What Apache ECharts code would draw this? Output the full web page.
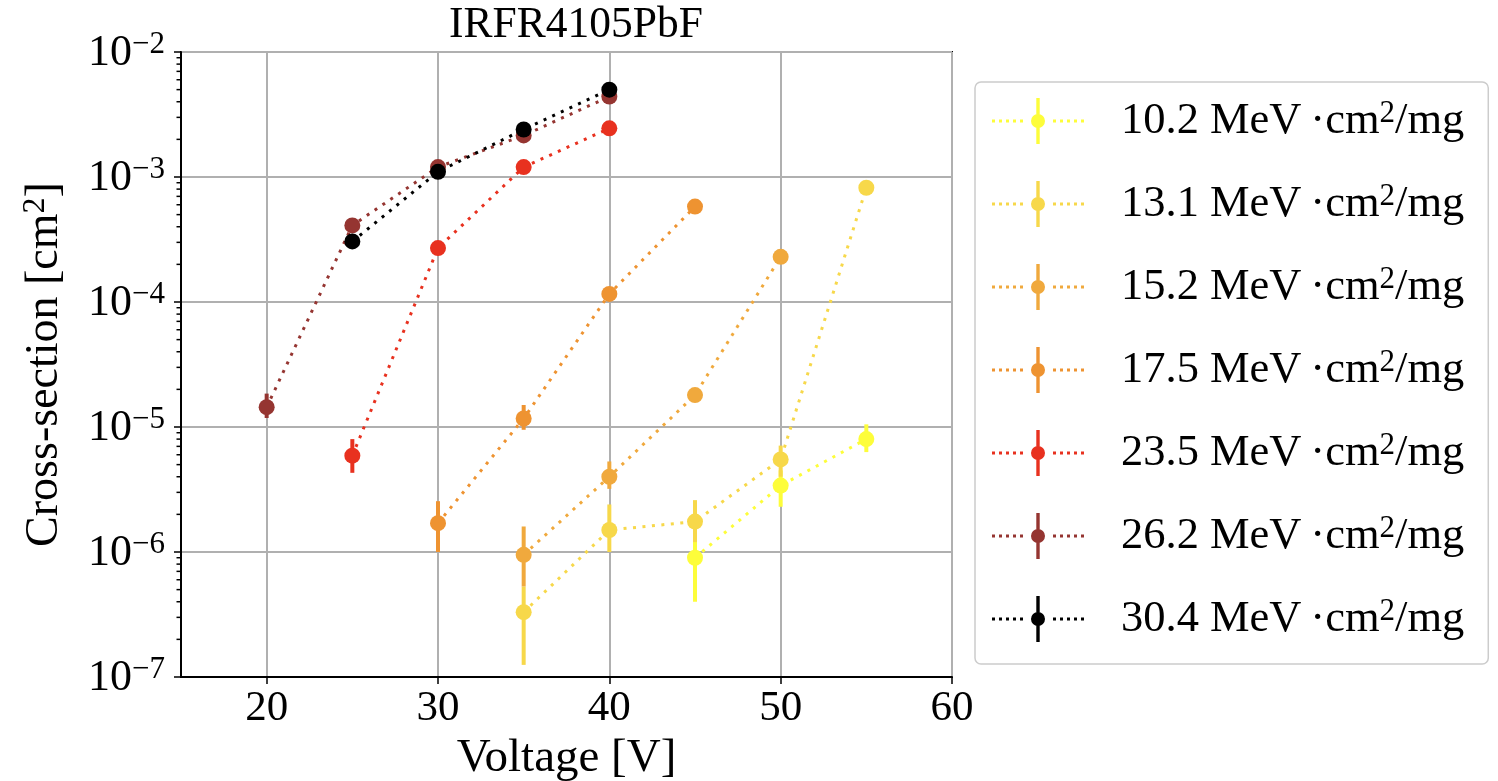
<!DOCTYPE html>
<html>
<head>
<meta charset="utf-8">
<script src="https://cdn.jsdelivr.net/npm/echarts@6/dist/echarts.min.js"></script>
<style>html,body{margin:0;padding:0;background:#fff;}#c{width:1498px;height:781px;}</style>
</head>
<body>
<div id="c"></div>
<script>
// ---- data ----
var seriesNames = ['10.2', '13.1', '15.2', '17.5', '23.5', '26.2', '30.4'];
var seriesColors = ['#fdfd3a', '#f7d84a', '#f0a93d', '#ee9331', '#e8311f', '#953531', '#000000'];

var x10_2 = [45, 50, 55];
var y10_2 = [9.0e-7, 3.4e-6, 8.0e-6];
var lo10_2 = [4.0e-7, 2.3e-6, 6.3e-6];
var hi10_2 = [1.4e-6, 4.5e-6, 1.05e-5];

var x13_1 = [35, 40, 45, 50, 55];
var y13_1 = [3.3e-7, 1.5e-6, 1.75e-6, 5.5e-6, 8.2e-4];
var lo13_1 = [1.25e-7, 1.0e-6, 1.2e-6, 4.0e-6, null];
var hi13_1 = [5.3e-7, 2.4e-6, 2.6e-6, 7.1e-6, null];

var x15_2 = [35, 40, 45, 50];
var y15_2 = [9.5e-7, 4.0e-6, 1.8e-5, 2.3e-4];
var lo15_2 = [5.3e-7, 3.2e-6, 1.6e-5, null];
var hi15_2 = [1.6e-6, 5.3e-6, 2.0e-5, null];

var x17_5 = [30, 35, 40, 45];
var y17_5 = [1.7e-6, 1.17e-5, 1.16e-4, 5.8e-4];
var lo17_5 = [1.0e-6, 9.5e-6, null, null];
var hi17_5 = [2.55e-6, 1.5e-5, null, null];

var x23_5 = [25, 30, 35, 40];
var y23_5 = [5.9e-6, 2.7e-4, 1.2e-3, 2.45e-3];
var lo23_5 = [4.3e-6, null, null, null];
var hi23_5 = [8.0e-6, null, null, null];

var x26_2 = [20, 25, 30, 35, 40];
var y26_2 = [1.44e-5, 4.1e-4, 1.2e-3, 2.15e-3, 4.4e-3];
var lo26_2 = [1.18e-5, null, null, null, null];
var hi26_2 = [1.85e-5, null, null, null, null];

var x30_4 = [25, 30, 35, 40];
var y30_4 = [3.05e-4, 1.1e-3, 2.4e-3, 5.0e-3];
var lo30_4 = [null, null, null, null];
var hi30_4 = [null, null, null, null];

var yMinorTicks = [2e-7,3e-7,4e-7,5e-7,6e-7,7e-7,8e-7,9e-7,
  2e-6,3e-6,4e-6,5e-6,6e-6,7e-6,8e-6,9e-6,
  2e-5,3e-5,4e-5,5e-5,6e-5,7e-5,8e-5,9e-5,
  2e-4,3e-4,4e-4,5e-4,6e-4,7e-4,8e-4,9e-4,
  2e-3,3e-3,4e-3,5e-3,6e-3,7e-3,8e-3,9e-3];

var titleText = 'IRFR4105PbF';
var xName = 'Voltage [V]';
var unitText = 'MeV\u2009\u00b7cm';

// ---- build ----
var groups = [
  [x10_2, y10_2, lo10_2, hi10_2],
  [x13_1, y13_1, lo13_1, hi13_1],
  [x15_2, y15_2, lo15_2, hi15_2],
  [x17_5, y17_5, lo17_5, hi17_5],
  [x23_5, y23_5, lo23_5, hi23_5],
  [x26_2, y26_2, lo26_2, hi26_2],
  [x30_4, y30_4, lo30_4, hi30_4]
];
var FONT = 'Liberation Serif';
var series = [];
var legendData = [];

series.push({
  type: 'custom', name: 'minor', silent: true, clip: false, z: 5,
  data: yMinorTicks.map(function (v) { return [15, v]; }),
  renderItem: function (params, api) {
    var p = api.coord([api.value(0), api.value(1)]);
    return { type: 'line', shape: { x1: p[0] - 4.5, y1: p[1], x2: p[0], y2: p[1] },
      style: { stroke: '#000', lineWidth: 1.5 } };
  }
});

groups.forEach(function (g, i) {
  var name = seriesNames[i] + ' ' + unitText + '2/mg';
  var color = seriesColors[i];
  var errData = [];
  for (var k = 0; k < g[0].length; k++) {
    if (g[2][k] != null) errData.push([g[0][k], g[2][k], g[3][k]]);
  }
  series.push({
    type: 'custom', name: name + ' err', silent: true,
    data: errData,
    renderItem: (function (c) {
      return function (params, api) {
        var a = api.coord([api.value(0), api.value(1)]);
        var b = api.coord([api.value(0), api.value(2)]);
        return { type: 'line', shape: { x1: a[0], y1: a[1], x2: b[0], y2: b[1] },
          style: { stroke: c, lineWidth: 4 } };
      };
    })(color)
  });
  series.push({
    type: 'line', name: name,
    data: g[0].map(function (x, k) { return [x, g[1][k]]; }),
    symbol: 'circle', symbolSize: 16, showSymbol: true,
    itemStyle: { color: color },
    lineStyle: { color: color, width: 3, type: [3, 6.5], cap: 'butt' },
    animation: false
  });
  legendData.push(name);
});

// legend icon: dotted line + error bar + marker
var icon = 'path://';
[0, 7, 14, 21, 28].forEach(function (x) { icon += 'M' + x + ',21.5h3v3h-3z'; });
[61, 68, 75, 82, 89].forEach(function (x) { icon += 'M' + x + ',21.5h3v3h-3z'; });
icon += 'M44.3,0h3.4v46h-3.4z';
icon += 'M39,23a7,7 0 1,1 14,0a7,7 0 1,1 -14,0z';

var chart = echarts.init(document.getElementById('c'), null, { renderer: 'canvas' });
chart.setOption({
  animation: false,
  backgroundColor: '#fff',
  title: {
    text: titleText, left: 444, top: -1,
    textStyle: { fontFamily: FONT, fontSize: 43.5, fontWeight: 'normal', color: '#000' }
  },
  grid: { left: 181, right: 546, top: 52, bottom: 104, show: true, containLabel: false,
    outerBoundsMode: 'none',
    borderColor: '#000', borderWidth: 2, backgroundColor: 'transparent' },
  legend: {
    orient: 'vertical', left: 975, top: 82,
    data: legendData,
    icon: icon, itemWidth: 92, itemHeight: 46, itemGap: 37,
    padding: [16, 24, 22, 17],
    backgroundColor: '#fff', borderColor: '#cccccc', borderWidth: 1.5, borderRadius: 6,
    textStyle: {
      fontFamily: FONT, color: '#000', padding: [0, 0, 0, 32],
      rich: {
        a: { fontFamily: FONT, fontSize: 44.5, color: '#000', lineHeight: 46, verticalAlign: 'bottom' },
        s: { fontFamily: FONT, fontSize: 31, color: '#000', lineHeight: 18, verticalAlign: 'top' }
      }
    },
    formatter: function (n) {
      var parts = n.split('2/mg');
      return '{a|' + parts[0] + '}{s|2}{a|/mg}';
    }
  },
  xAxis: {
    type: 'value', min: 15, max: 60, splitNumber: 5,
    name: xName, nameLocation: 'middle', nameGap: 46,
    nameTextStyle: { fontFamily: FONT, fontSize: 47, color: '#000' },
    axisLine: { show: true, lineStyle: { color: '#000', width: 2 } },
    axisTick: { show: true, length: 7, lineStyle: { color: '#000', width: 1.5 } },
    axisLabel: { fontFamily: FONT, fontSize: 43, color: '#000', margin: 10, showMinLabel: false },
    splitLine: { show: true, lineStyle: { color: '#b0b0b0', width: 2 } }
  },
  yAxis: {
    type: 'log', logBase: 10, min: 1e-7, max: 1e-2,
    name: 'Cross-section [cm2]', nameLocation: 'middle', nameGap: 113,
    nameTextStyle: {
      fontFamily: FONT, fontSize: 46, color: '#000',
      rich: {
        a: { fontFamily: FONT, fontSize: 46, color: '#000', lineHeight: 48, verticalAlign: 'bottom' },
        s: { fontFamily: FONT, fontSize: 32, color: '#000', lineHeight: 20, verticalAlign: 'top' }
      }
    },
    axisLine: { show: true, lineStyle: { color: '#000', width: 2 } },
    axisTick: { show: true, length: 7, lineStyle: { color: '#000', width: 1.5 } },
    axisLabel: {
      margin: 16, color: '#000',
      formatter: function (v) {
        var e = Math.round(Math.log(v) / Math.LN10);
        return '{b|10}{s|\u2212' + Math.abs(e) + '}';
      },
      rich: {
        b: { fontFamily: FONT, fontSize: 44, color: '#000', lineHeight: 46, verticalAlign: 'bottom' },
        s: { fontFamily: FONT, fontSize: 31, color: '#000', lineHeight: 30, verticalAlign: 'top' }
      }
    },
    splitLine: { show: true, lineStyle: { color: '#b0b0b0', width: 2 } }
  },
  series: series
});
// y-axis name with superscript via rich text
chart.setOption({ yAxis: { name: '{a|Cross-section [cm}{s|2}{a|]}' } });
</script>
</body>
</html>
